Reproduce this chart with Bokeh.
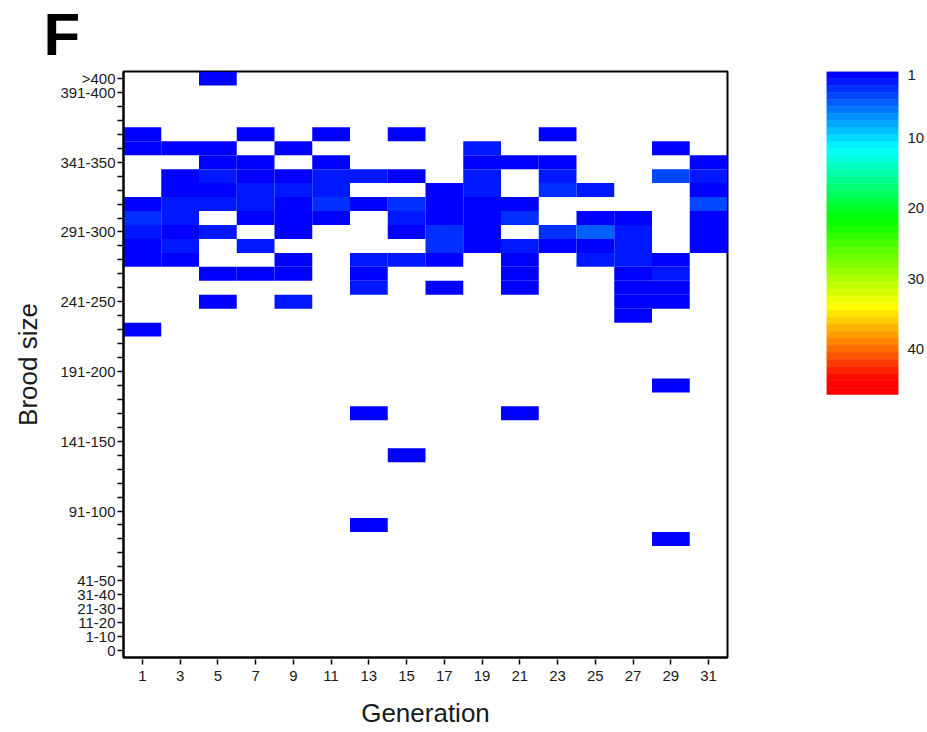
import colorsys
from bokeh.plotting import figure
from bokeh.models import ColumnDataSource, LinearColorMapper, FixedTicker, Range1d, Label
from bokeh.transform import transform
from bokeh.layouts import row
from bokeh.embed import file_html
from bokeh.resources import INLINE

# ---------------- data ----------------
brood_bins = ["0", "1-10", "11-20", "21-30", "31-40", "41-50", "51-60", "61-70", "71-80", "81-90",
              "91-100", "101-110", "111-120", "121-130", "131-140", "141-150", "151-160", "161-170",
              "171-180", "181-190", "191-200", "201-210", "211-220", "221-230", "231-240", "241-250",
              "251-260", "261-270", "271-280", "281-290", "291-300", "301-310", "311-320", "321-330",
              "331-340", "341-350", "351-360", "361-370", "371-380", "381-390", "391-400", ">400"]
shown_bins = [">400", "391-400", "341-350", "291-300", "241-250", "191-200", "141-150", "91-100",
              "41-50", "31-40", "21-30", "11-20", "1-10", "0"]
generations = [1, 3, 5, 7, 9, 11, 13, 15, 17, 19, 21, 23, 25, 27, 29, 31]
colorbar_ticks = [1, 10, 20, 30, 40]
colorbar_values = list(range(1, 47))

cell_generation = (
    [1] * 8 + [3] * 8 + [5] * 9 + [7] * 8 + [9] * 9 + [11] * 6 + [13] * 7 + [15] * 7 +
    [17] * 7 + [19] * 8 + [21] * 8 + [23] * 6 + [25] * 5 + [27] * 8 + [29] * 8 + [31] * 7
)
cell_bin = [
    # 1
    "361-370", "351-360", "311-320", "301-310", "291-300", "281-290", "271-280", "221-230",
    # 3
    "351-360", "331-340", "321-330", "311-320", "301-310", "291-300", "281-290", "271-280",
    # 5
    ">400", "351-360", "341-350", "331-340", "321-330", "311-320", "291-300", "261-270", "241-250",
    # 7
    "361-370", "341-350", "331-340", "321-330", "311-320", "301-310", "281-290", "261-270",
    # 9
    "351-360", "331-340", "321-330", "311-320", "301-310", "291-300", "271-280", "261-270", "241-250",
    # 11
    "361-370", "341-350", "331-340", "321-330", "311-320", "301-310",
    # 13
    "331-340", "311-320", "271-280", "261-270", "251-260", "161-170", "81-90",
    # 15
    "361-370", "331-340", "311-320", "301-310", "291-300", "271-280", "131-140",
    # 17
    "321-330", "311-320", "301-310", "291-300", "281-290", "271-280", "251-260",
    # 19
    "351-360", "341-350", "331-340", "321-330", "311-320", "301-310", "291-300", "281-290",
    # 21
    "341-350", "311-320", "301-310", "281-290", "271-280", "261-270", "251-260", "161-170",
    # 23
    "361-370", "341-350", "331-340", "321-330", "291-300", "281-290",
    # 25
    "321-330", "301-310", "291-300", "281-290", "271-280",
    # 27
    "301-310", "291-300", "281-290", "271-280", "261-270", "251-260", "241-250", "231-240",
    # 29
    "351-360", "331-340", "271-280", "261-270", "251-260", "241-250", "181-190", "71-80",
    # 31
    "341-350", "331-340", "321-330", "311-320", "301-310", "291-300", "281-290",
]
cell_count = [
    1, 1, 1, 3, 2, 1, 1, 1,
    1, 1, 1, 2, 2, 1, 2, 1,
    1, 1, 1, 2, 1, 2, 2, 1, 1,
    1, 1, 1, 2, 2, 1, 2, 1,
    1, 1, 2, 1, 1, 1, 1, 1, 2,
    1, 1, 2, 2, 3, 1,
    2, 1, 2, 1, 2, 1, 1,
    1, 1, 3, 2, 1, 2, 1,
    1, 1, 1, 3, 3, 1, 1,
    2, 1, 2, 2, 1, 1, 1, 1,
    1, 1, 3, 2, 1, 1, 1, 1,
    1, 1, 2, 3, 3, 1,
    2, 1, 5, 1, 2,
    1, 2, 2, 2, 1, 1, 1, 1,
    1, 4, 1, 2, 1, 1, 1, 1,
    1, 2, 1, 4, 1, 1, 1,
]
panel_letter = "F"

# ---------------- palette (rainbow, blue -> red) ----------------
hue_anchors = [(1, 240), (11.6, 180), (21.6, 120), (33.9, 60), (44.5, 0), (46, 0)]


def hue_for(v):
    for (v0, h0), (v1, h1) in zip(hue_anchors[:-1], hue_anchors[1:]):
        if v0 <= v <= v1:
            return h0 + (h1 - h0) * (v - v0) / (v1 - v0)
    return 0


palette = []
for v in colorbar_values:
    r, g, b = colorsys.hsv_to_rgb(hue_for(v) / 360.0, 1, 1)
    palette.append("#%02x%02x%02x" % (round(r * 255), round(g * 255), round(b * 255)))

mapper = LinearColorMapper(palette=palette, low=0.5, high=46.5)

FONT = "Liberation Sans"
TXT = "#1a1a1a"
FRAME_H = 586
BAR_H = 323

# ---------------- main heatmap ----------------
src = ColumnDataSource(dict(
    gen=cell_generation,
    yi=[brood_bins.index(b) for b in cell_bin],
    count=cell_count,
))

p = figure(width=800, height=732, x_range=Range1d(0, 32), y_range=Range1d(-0.5, len(brood_bins) - 0.5),
           output_backend="svg", toolbar_location=None,
           min_border_left=123, min_border_right=73, min_border_top=71, min_border_bottom=75)

p.rect(x="gen", y="yi", width=2, height=1, source=src,
       fill_color=transform("count", mapper), line_color=None)

# panel letter, placed in the panel above the frame (screen units relative to that panel)
p.add_layout(Label(x=-80, y=37, x_units="screen", y_units="screen", text=panel_letter,
                   text_font=FONT, text_font_size="60px", text_font_style="bold",
                   text_color="black", text_align="left", text_baseline="alphabetic"), "above")

p.xgrid.visible = False
p.ygrid.visible = False
p.outline_line_color = "black"
p.outline_line_width = 2
p.background_fill_color = "white"
p.border_fill_color = "white"

p.xaxis.ticker = FixedTicker(ticks=generations)
p.xaxis.minor_tick_line_color = None
p.xaxis.major_tick_in = -2
p.xaxis.major_tick_out = 7
p.xaxis.major_tick_line_width = 1.5
p.xaxis.axis_line_width = 2
p.xaxis.major_label_text_font = FONT
p.xaxis.major_label_text_font_size = "15px"
p.xaxis.major_label_text_color = TXT
p.xaxis.major_label_standoff = 6
p.xaxis.axis_label = "Generation"
p.xaxis.axis_label_text_font = FONT
p.xaxis.axis_label_text_font_size = "26px"
p.xaxis.axis_label_text_font_style = "normal"
p.xaxis.axis_label_text_color = TXT
p.xaxis.axis_label_standoff = 14

p.yaxis.ticker = FixedTicker(ticks=list(range(len(brood_bins))))
p.yaxis.major_label_overrides = {i: (b if b in shown_bins else "") for i, b in enumerate(brood_bins)}
p.yaxis.minor_tick_line_color = None
p.yaxis.major_tick_in = 0
p.yaxis.major_tick_out = 6
p.yaxis.major_tick_line_width = 1.5
p.yaxis.axis_line_width = 2
p.yaxis.major_label_text_font = FONT
p.yaxis.major_label_text_font_size = "15px"
p.yaxis.major_label_text_color = TXT
p.yaxis.major_label_standoff = 2
p.yaxis.axis_label = "Brood size"
p.yaxis.axis_label_text_font = FONT
p.yaxis.axis_label_text_font_size = "26px"
p.yaxis.axis_label_text_font_style = "normal"
p.yaxis.axis_label_text_color = TXT
p.yaxis.axis_label_standoff = 14

# ---------------- colour bar ----------------
# the colour-bar figure shares the frame height of the heatmap; the bar fills its top part
n_cb = len(colorbar_values)
cb_extent = n_cb * FRAME_H / BAR_H
cb_src = ColumnDataSource(dict(v=colorbar_values, x=[0.5] * n_cb))
cb = figure(width=127, height=732, x_range=Range1d(0, 1), y_range=Range1d(0.5 + cb_extent, 0.5),
            output_backend="svg", toolbar_location=None, y_axis_location="right",
            min_border_left=26, min_border_right=28, min_border_top=71, min_border_bottom=75)
cb.rect(x="x", y="v", width=1, height=1, source=cb_src,
        fill_color=transform("v", mapper), line_color=transform("v", mapper), line_width=0.5)
cb.xaxis.visible = False
cb.xgrid.visible = False
cb.ygrid.visible = False
cb.outline_line_color = None
cb.yaxis.ticker = FixedTicker(ticks=colorbar_ticks)
cb.yaxis.axis_line_color = None
cb.yaxis.major_tick_line_color = None
cb.yaxis.minor_tick_line_color = None
cb.yaxis.major_label_text_font = FONT
cb.yaxis.major_label_text_font_size = "15px"
cb.yaxis.major_label_text_color = TXT
cb.yaxis.major_label_standoff = 3

layout = row(p, cb)
open("out.html", "w").write(file_html(layout, INLINE))
